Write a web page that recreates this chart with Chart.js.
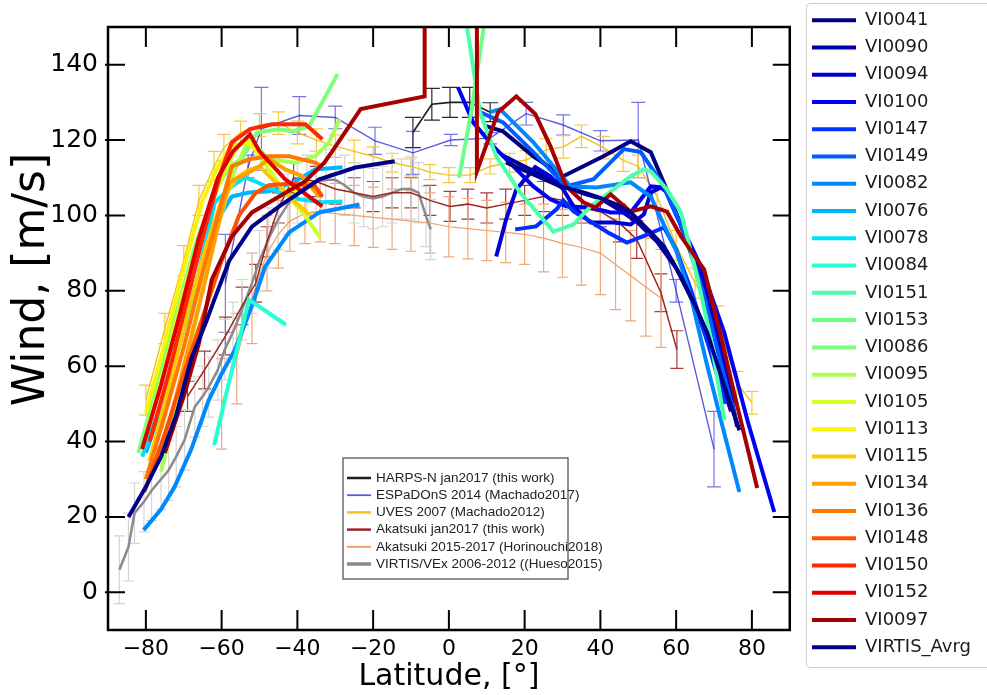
<!DOCTYPE html>
<html>
<head>
<meta charset="utf-8">
<script src="https://cdn.jsdelivr.net/npm/chart.js@4.4.0/dist/chart.umd.min.js"></script>
<style>
  body { margin: 0; background: #fff; overflow: hidden; }
  #wrap { width: 987px; height: 695px; }
</style>
</head>
<body>
<div id="wrap"><canvas id="myChart" width="987" height="695"></canvas></div>
<script>
const xTicks = [-80, -60, -40, -20, 0, 20, 40, 60, 80];
const yTicks = [0, 20, 40, 60, 80, 100, 120, 140];

// reference profiles from older works: [lat, wind, error]
const harpsN = [[-9.5, 122, 4], [-4.5, 129.5, 4.2], [0.3, 130, 4], [5.5, 130, 4], [10.9, 127.4, 2.5]];
const espadons = [[-59, 82, 13], [-53, 113, 3], [-49.5, 123, 11], [-39.5, 126.5, 5], [-30, 126, 3], [-19.5, 119.8, 3.6],
  [-9.5, 116.6, 5.7], [0.5, 120, 1.5], [10.9, 120.5, 1.5], [20.4, 127, 3], [30.2, 124, 2.7], [40, 119.8, 2.7],
  [50, 120, 10], [60, 80, 3], [70, 38, 10]];
const uves = [[-80, 51, 4], [-75, 70, 4], [-70, 88, 4], [-66, 104, 4], [-62, 113, 4], [-59.4, 118, 3.5], [-55, 122, 3],
  [-50, 124, 3], [-45, 124.5, 3], [-40, 122, 3], [-35, 120, 3], [-30, 118.4, 3], [-25, 117, 3], [-20, 115.7, 2.5],
  [-15, 114, 2.5], [-10, 113, 2.5], [-5, 111.5, 2], [0, 110.7, 2], [5.6, 110.7, 2], [10.9, 113, 2], [16, 114, 2.5],
  [20.4, 114.7, 2.5], [25.7, 117.4, 3], [30.2, 118.2, 3], [35, 121, 3], [40.8, 118, 3], [46, 114.7, 3], [50, 113, 3],
  [55, 105, 3], [60, 92, 4], [65, 82, 4], [71, 72, 4], [76, 55.6, 3], [80, 50.3, 3]];
const akatsukiJan = [[-69, 52, 4], [-64.5, 59, 5], [-59, 68, 5], [-54.6, 76, 5], [-51, 82, 5], [-48, 93, 4], [-45, 102, 4],
  [-41, 110, 4], [-35, 109, 4], [-30, 107, 4], [-25, 106, 4], [-20, 105, 4], [-15, 106, 4], [-10, 106, 4], [-5, 104, 4],
  [0.3, 102.4, 4], [5, 103, 4], [10, 102, 4], [15, 103, 4], [20, 104, 4], [25, 105, 4], [30, 104, 4], [35, 102, 4],
  [40, 101, 4], [45, 98, 5], [49.6, 93.6, 5], [56, 79.5, 5], [60.2, 64.4, 5]];
const horinouchi = [[-60, 50, 12], [-56, 62, 12], [-52, 78, 12], [-48, 90, 10], [-45, 95, 9], [-42, 98.5, 8], [-38, 100.5, 8],
  [-34, 101, 8], [-30, 100.5, 8], [-25, 100, 8], [-20, 99.5, 8], [-15, 99, 8], [-10, 98.5, 8], [-5, 98, 8], [0, 97, 8],
  [5, 96.5, 8], [10, 96, 8], [15, 95.5, 8], [20, 95, 8], [25, 94, 9], [30, 92.6, 9], [35, 91.5, 10], [40, 90, 11],
  [44, 87, 12], [48, 84, 12], [52, 81, 13], [56, 78, 13]];
const virtisVex = [[-87, 6, 9], [-84.6, 12, 9], [-83, 21, 8], [-80.5, 24, 8], [-78.5, 27, 8], [-76, 30, 8], [-74, 32.4, 8],
  [-72, 36, 8], [-69.8, 40.4, 8], [-67.1, 49.2, 8], [-65, 52, 8], [-63.4, 54.5, 8], [-61, 59, 8], [-59.2, 64.4, 8],
  [-57, 69, 8], [-54.6, 75, 8], [-52, 82, 8], [-50, 88, 8], [-47.5, 94, 8], [-45, 99, 8], [-42.5, 103, 8], [-40, 106, 8],
  [-37.5, 108, 8], [-35, 109, 8], [-32.5, 109.5, 8], [-30, 109.5, 8], [-27.5, 108, 8], [-25, 106, 8], [-22.5, 105, 8],
  [-20, 104.5, 8], [-17.5, 105, 8], [-15, 106, 8], [-12.5, 107, 8], [-10, 107, 8], [-8, 106, 8], [-6, 99.7, 8], [-4.8, 96.3, 8]];

// VIRTIS orbits: [lat, wind], null breaks the line
const vi0041 = [[9.8, 123.7], [14.3, 122.3], [22.3, 115.7], [30.2, 110.4], [40.8, 115.7], [48, 119.7], [53.3, 116.8],
  [58.6, 104.3], [63.9, 90.2], [69.2, 77.7], [76.1, 44]];
const vi0090 = [[14, 116], [20, 113], [26, 110], [30, 108.5], [35, 106], [40, 104.5], [45, 101.5], [50, 98], [55, 93],
  [60, 86], [65, 76], [70, 62], [74.5, 48]];
const vi0094 = [[12.5, 89.1], [15.1, 98.9], [17.8, 106.9], [22.8, 112.8], [26.8, 110.4], [30.2, 106.9], [32.9, 102.4],
  [37.4, 98.1], [43.5, 98.1], [48, 97.6], [51.5, 100.3], [53.3, 106.1], [56, 107.4], [57.6, 106.1], [62, 96], [67, 82],
  [72, 63], [76, 50]];
const vi0100 = [[2.4, 134], [6.4, 124.7], [11.7, 118.4], [17.8, 112.2], [22.3, 107.7], [26.8, 104.3], [31, 102.4],
  [37.4, 102.1], [42.7, 100.8], [48, 100.8], [53.3, 107.7], [56.8, 107.4], [60.2, 99.7], [66.6, 86.4], [72.7, 68.9],
  [79, 45], [85.9, 21.3]];
const vi0147 = [[17.5, 96.3], [23, 97.1], [28.4, 101.6], [30.2, 104], [33, 101], [37.4, 98.4], [42, 95.5], [47, 92.8],
  [52, 94.8], [56.8, 96.8], [60, 91], [64, 80], [69, 64], [73, 50]];
const vi0149 = [[8.2, 127.4], [14.3, 124.7], [22.3, 116.8], [31, 107.7], [38.2, 109.6], [46.2, 117.6], [50.7, 116.8],
  [56.8, 107.7], [62.1, 95.5], [67, 80], [72, 60], [76, 45]];
const vi0082 = [[-80.6, 16.5], [-76, 22], [-72.4, 28], [-68, 38], [-63.4, 51], [-60, 58], [-56.5, 64.4], [-52, 76],
  [-48.5, 86.4], [-42.2, 95.5], [-34.2, 100.8], [-23.6, 102.9], null, [10.9, 127.4], [13.5, 128.2], [22.3, 119.4],
  [32.1, 107.7], [39, 107.4], [48, 108.8], [53.3, 105], [60.2, 90.2], [64, 78], [68, 61], [72.5, 43], [76.7, 26.6]];
const vi0076 = [[-80, 37], [-75, 52], [-70, 70], [-65, 88], [-61, 99], [-57.3, 105], [-52.8, 106.1], [-47.5, 106.4],
  [-40.6, 109], [-35.3, 112.2], [-28.1, 112.8]];
const vi0078 = [[-81, 36], [-76, 50], [-71, 66], [-66, 85], [-61.8, 103.5], [-57.3, 107.7], [-53.8, 110.1], [-51, 109],
  [-44.8, 106.1], [-39.5, 104.3], [-33.4, 103.5], [-28.1, 103.7]];
const vi0084 = [[-62, 39], [-57.5, 58], [-52.8, 77.7], [-43, 71]];
const vi0151 = [[4.5, 152], [8.2, 127.4], [12.5, 115.7], [18.8, 106.1], [27.6, 95.7], [32.9, 97.6], [37.4, 102.4],
  [43.5, 106.9], [48, 110.4], [51.5, 112.2], [53.3, 111.7], [57.6, 106.9], [61.3, 100.8], [65.5, 84], [69, 68], [72.7, 45.7]];
const vi0153 = [[2.7, 110], [6, 128], [9.5, 152]];
const vi0086 = [[-82, 37], [-77, 55], [-72, 74], [-67, 92], [-62, 106], [-58, 113], [-54.6, 115], [-50.7, 122],
  [-44.8, 122.9], [-41.4, 122.3], [-36.9, 123.7], [-29.4, 137.5]];
const vi0095 = [[-76, 32], [-71, 52], [-66, 76], [-61, 97], [-57, 111], [-52.8, 120.2], [-47.5, 114.9], [-40.6, 114],
  [-35.3, 115.7], [-31.6, 119.4], [-28.9, 125.5]];
const vi0105 = [[-80, 42], [-75, 60], [-70, 80], [-65, 97], [-60, 110], [-56, 118], [-53, 120], [-47.5, 112.2],
  [-43.2, 106.1], [-38, 100], [-34, 94.1]];
const vi0113 = [[-80, 47.6], [-75, 66], [-70, 86], [-65, 104], [-61, 113], [-57.3, 118.4], [-53.3, 119.4], [-49, 115.7],
  [-45, 111.4], [-40, 106]];
const vi0115 = [[-79, 35], [-74, 54], [-69, 74], [-64, 92], [-60, 104], [-56, 110], [-53, 112], [-50, 113], [-45, 108],
  [-40, 103], [-36.5, 100]];
const vi0134 = [[-75, 40], [-70, 60], [-65, 80], [-61, 97], [-58, 108.8], [-53.8, 110.9], [-50.1, 113], [-47.5, 115],
  [-43.2, 112.2], [-38.7, 110.4], [-34.2, 105]];
const vi0136 = [[-80, 30], [-75, 47], [-70, 65], [-65, 85], [-61, 100], [-57.3, 113], [-52.8, 114.9], [-47.5, 115.7],
  [-42.2, 115.7], [-35.3, 114], [-33.4, 113]];
const vi0148 = [[-80.4, 26.6], [-75, 42], [-70, 58], [-65, 73], [-60, 88], [-55.4, 100], [-51, 106], [-47.5, 108],
  [-41.4, 108.5], [-35.3, 107.7], [-33.4, 105]];
const vi0150 = [[-79, 40], [-74, 58], [-69, 78], [-64, 98], [-60, 112], [-57.3, 119.4], [-52.5, 122.9], [-46.7, 124.2],
  [-37.9, 124.2], [-33.4, 120.2]];
const vi0152 = [[-81, 38], [-76, 55], [-71, 74], [-66, 94], [-61, 110], [-57, 117], [-52.5, 121.5], [-50, 117],
  [-43.2, 109.6], [-33.4, 102.4]];
const vi0097 = [[-75, 37], [-70, 52], [-66, 66], [-62.6, 83], [-57.3, 94.4], [-52, 100.8], [-44.8, 105], [-38, 109],
  [-32.9, 114], [-30.8, 117], [-23.3, 128.2], [-6.4, 131.6], [-6.4, 165], [7.4, 165], [7.4, 111.7], [13, 127.4],
  [17.8, 131.6], [22.8, 126.9], [26.8, 118.4], [31, 107.7], [35.5, 103.5], [38.7, 102.1], [42.7, 105.6], [48, 101],
  [53.3, 102.4], [57.6, 101], [61.3, 94.4], [67.4, 85.6], [71.4, 69.7], [76, 50], [81.4, 27.7]];
const virtisAvrg = [[-84.6, 20], [-80, 28], [-76, 36], [-72, 47], [-68, 62], [-64, 72], [-61.8, 78], [-58, 88],
  [-52, 97], [-44.8, 102.4], [-34.2, 109.6], [-24.7, 112.7], [-14.3, 114.4], null, [15.1, 114.1], [22.3, 110.9],
  [29.4, 107.7], [34.7, 106.4], [39, 105], [44.3, 102.9], [48, 100.8], [53.3, 95.5], [56.8, 91.8], [61.3, 83.8],
  [65.5, 75], [68.2, 68.9], [72, 57], [76.7, 43]];

const orbitLabels = ["VI0041", "VI0090", "VI0094", "VI0100", "VI0147", "VI0149", "VI0082", "VI0076", "VI0078",
  "VI0084", "VI0151", "VI0153", "VI0086", "VI0095", "VI0105", "VI0113", "VI0115", "VI0134", "VI0136", "VI0148",
  "VI0150", "VI0152", "VI0097", "VIRTIS_Avrg"];
const orbitSeries = [vi0041, vi0090, vi0094, vi0100, vi0147, vi0149, vi0082, vi0076, vi0078, vi0084, vi0151, vi0153,
  vi0086, vi0095, vi0105, vi0113, vi0115, vi0134, vi0136, vi0148, vi0150, vi0152, vi0097, virtisAvrg];
const orbitColors = ["#000080", "#0000a8", "#0000d0", "#0000f5", "#0030ff", "#005cff", "#0088ff", "#00b4ff",
  "#00e0fb", "#26ffd1", "#4dffaa", "#6bff8a", "#7dff7a", "#a7ff50", "#d1ff26", "#fbf400", "#ffc800", "#ffa000",
  "#ff7800", "#ff4f00", "#ff2800", "#e00000", "#a80000", "#000088"];

const refLabels = ["HARPS-N jan2017 (this work)", "ESPaDOnS 2014 (Machado2017)", "UVES 2007 (Machado2012)",
  "Akatsuki jan2017 (this work)", "Akatsuki 2015-2017 (Horinouchi2018)", "VIRTIS/VEx 2006-2012 ((Hueso2015)"];
const refSeries = [harpsN, espadons, uves, akatsukiJan, horinouchi, virtisVex];
const refColors = ["#1e1e1e", "rgba(50,50,215,0.8)", "#f2c21b", "#9b2525", "#efa06a", "#8a8a8a"];
const refErrColors = ["#2a2a2a", "rgba(60,60,220,0.7)", "#f5c842", "#a83a3a", "#f0a878", "#d4d4d4"];
const refWidths = [1.6, 1.4, 1.4, 1.5, 1.2, 2.5];
const refKeyWidths = [2.5, 1.8, 2.5, 2.5, 2, 3.5];
const refCaps = [16, 14, 13, 13, 11, 11];

function toPoints(arr) {
  return arr.map((p, i) => (p === null ? { x: arr[i - 1][0], y: null } : { x: p[0], y: p[1] }));
}

let datasets = [];
orbitSeries.forEach((s, i) => {
  datasets.push({
    label: orbitLabels[i],
    data: toPoints(s),
    borderColor: orbitColors[i],
    backgroundColor: orbitColors[i],
    borderWidth: 4,
    pointRadius: 0,
    tension: 0,
    clip: 0,
    order: -i,
  });
});
refSeries.forEach((s, j) => {
  datasets.push({
    label: refLabels[j],
    data: toPoints(s),
    errors: s.map((p) => p[2]),
    errColor: refErrColors[j],
    capWidth: refCaps[j],
    keyWidth: refKeyWidths[j],
    borderColor: refColors[j],
    backgroundColor: refColors[j],
    borderWidth: refWidths[j],
    pointRadius: 0,
    tension: 0,
    clip: 0,
    order: 100 + j,
  });
});

// vertical error bars for the reference profiles
const errorBarPlugin = {
  id: "errorBars",
  beforeDatasetsDraw(chart) {
    const { ctx, chartArea, scales } = chart;
    ctx.save();
    ctx.beginPath();
    ctx.rect(chartArea.left, chartArea.top, chartArea.right - chartArea.left, chartArea.bottom - chartArea.top);
    ctx.clip();
    chart.data.datasets.forEach((ds) => {
      if (!ds.errors) return;
      ctx.strokeStyle = ds.errColor;
      ctx.lineWidth = 1.2;
      ds.data.forEach((p, i) => {
        const e = ds.errors[i];
        const px = scales.x.getPixelForValue(p.x);
        const top = scales.y.getPixelForValue(p.y + e);
        const bot = scales.y.getPixelForValue(p.y - e);
        const half = ds.capWidth / 2;
        ctx.beginPath();
        ctx.moveTo(px, top);
        ctx.lineTo(px, bot);
        ctx.moveTo(px - half, top);
        ctx.lineTo(px + half, top);
        ctx.moveTo(px - half, bot);
        ctx.lineTo(px + half, bot);
        ctx.stroke();
      });
    });
    ctx.restore();
  },
};

// small legend box of the reference works, inside the plot
const innerLegendPlugin = {
  id: "innerLegend",
  afterDatasetsDraw(chart) {
    const { ctx, chartArea } = chart;
    const left = chartArea.left + 235;
    const top = chartArea.top + 431;
    ctx.save();
    ctx.fillStyle = "#fff";
    ctx.fillRect(left, top, 225, 121);
    ctx.strokeStyle = "#555";
    ctx.lineWidth = 1.3;
    ctx.strokeRect(left, top, 225, 121);
    ctx.font = '13.5px "Liberation Sans Narrow", "Arial Narrow", Arial, sans-serif';
    ctx.textBaseline = "middle";
    ctx.fillStyle = "#222";
    let row = 0;
    chart.data.datasets.forEach((ds) => {
      if (!ds.errors) return;
      const cy = top + 20 + row * 17.2;
      ctx.strokeStyle = ds.borderColor;
      ctx.lineWidth = ds.keyWidth;
      ctx.beginPath();
      ctx.moveTo(left + 4, cy);
      ctx.lineTo(left + 28, cy);
      ctx.stroke();
      ctx.fillText(ds.label, left + 33, cy);
      row++;
    });
    ctx.restore();
  },
};

// frame, inward ticks on all four sides, and the legend border
const framePlugin = {
  id: "frame",
  afterDraw(chart) {
    const { ctx, chartArea, scales, legend } = chart;
    const { left, right, top, bottom } = chartArea;
    ctx.save();
    ctx.strokeStyle = "#000";
    ctx.lineWidth = 2;
    ctx.beginPath();
    xTicks.forEach((v) => {
      const px = scales.x.getPixelForValue(v);
      ctx.moveTo(px, bottom);
      ctx.lineTo(px, bottom - 20);
      ctx.moveTo(px, top);
      ctx.lineTo(px, top + 20);
    });
    yTicks.forEach((v) => {
      const py = scales.y.getPixelForValue(v);
      ctx.moveTo(left - 3, py);
      ctx.lineTo(left + 17, py);
      ctx.moveTo(right, py);
      ctx.lineTo(right - 17, py);
    });
    ctx.stroke();
    ctx.lineWidth = 2.5;
    ctx.strokeRect(left, top, right - left, bottom - top);
    ctx.lineWidth = 1;
    ctx.strokeStyle = "#cccccc";
    ctx.beginPath();
    ctx.roundRect(legend.left + 3.5, 3.5, 400, 664, 4);
    ctx.stroke();
    ctx.restore();
  },
};

const ctx = document.getElementById("myChart").getContext("2d");
const myChart = new Chart(ctx, {
  type: "line",
  data: { datasets: datasets },
  options: {
    responsive: false,
    animation: false,
    devicePixelRatio: 1,
    layout: { padding: { top: 2, left: 0, right: 6, bottom: 0 } },
    plugins: {
      tooltip: { enabled: false },
      title: { display: true, text: "", padding: { top: 15, bottom: 0 }, font: { size: 10, lineHeight: 1 } },
      legend: {
        position: "right",
        align: "start",
        maxWidth: 181,
        labels: {
          font: { family: "DejaVu Sans", size: 18 },
          color: "#1a1a1a",
          boxWidth: 44,
          boxHeight: 4,
          padding: 9.26,
          generateLabels(chart) {
            return chart.data.datasets
              .map((ds, i) => ({
                text: ds.label,
                fillStyle: ds.borderColor,
                strokeStyle: ds.borderColor,
                lineWidth: 0,
                hidden: false,
                datasetIndex: i,
                fontColor: "#1a1a1a",
                isRef: !!ds.errors,
              }))
              .filter((item) => !item.isRef);
          },
        },
      },
    },
    scales: {
      x: {
        type: "linear",
        min: -90,
        max: 90,
        afterBuildTicks: (scale) => {
          scale.ticks = xTicks.map((v) => ({ value: v }));
        },
        afterFit: (scale) => {
          scale.height = 65;
        },
        grid: { display: false, drawTicks: false },
        border: { display: false },
        ticks: {
          font: { family: "DejaVu Sans", size: 22 },
          color: "#000",
          padding: 6,
          maxRotation: 0,
          callback: (v) => (v < 0 ? "\u2212" + Math.abs(v) : String(v)),
        },
        title: {
          display: true,
          text: "Latitude, [\u00b0]",
          font: { family: "DejaVu Sans", size: 30 },
          color: "#000",
          padding: { top: 0, bottom: 0 },
        },
      },
      y: {
        type: "linear",
        min: -10,
        max: 150,
        afterBuildTicks: (scale) => {
          scale.ticks = yTicks.map((v) => ({ value: v }));
        },
        afterFit: (scale) => {
          scale.width = 108;
        },
        grid: { display: false, drawTicks: false },
        border: { display: false },
        ticks: {
          font: { family: "DejaVu Sans", size: 25 },
          color: "#000",
          padding: 10,
        },
        title: {
          display: true,
          // leading spaces move the label up a little, as in the original
          text: "       Wind, [m/s]",
          font: { family: "DejaVu Sans", size: 44 },
          color: "#000",
          padding: { top: 6, bottom: 0 },
        },
      },
      y2: {
        type: "linear",
        position: "right",
        display: true,
        grid: { display: false, drawTicks: false },
        border: { display: false },
        ticks: { display: false },
        afterFit: (scale) => {
          scale.width = 13;
        },
      },
    },
  },
  plugins: [errorBarPlugin, innerLegendPlugin, framePlugin],
});
</script>
</body>
</html>
